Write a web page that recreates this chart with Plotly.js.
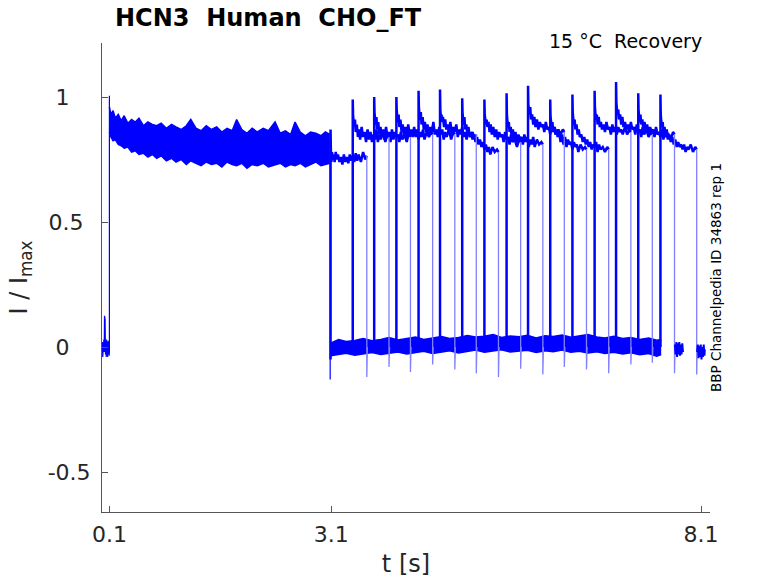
<!DOCTYPE html>
<html>
<head>
<meta charset="UTF-8">
<title>HCN3 Human CHO_FT</title>
<script src="https://cdn.plot.ly/plotly-3.0.1.min.js"></script>
<style>
  body { margin: 0; background: #fff; }
  #chart { width: 778px; height: 583px; }
</style>
</head>
<body>
<div id="chart"></div>
<script>
    const blue = '#0000ff';
    const lightBlue = '#8080ff';

    // holding level before the first pulse (t < 0.1 s)
    var preT = [0, 0.005, 0.01, 0.015, 0.02, 0.025, 0.03, 0.034, 0.038, 0.042, 0.047, 0.052, 0.057, 0.062, 0.067, 0.072, 0.077, 0.082, 0.087, 0.092, 0.097, 0.1, 0.1];
    var preY = [-0.01, 0.02, -0.04, 0.015, -0.035, 0.03, -0.02, 0.125, 0.01, 0.11, -0.03, 0.02, -0.04, 0.03, -0.035, 0.02, -0.04, 0.025, -0.03, 0.02, -0.035, -0.02, 1.005];

    // first pulse 0.1 .. 3.1 s, envelope of all sweeps
    var p1T  = [0.1, 0.12, 0.15, 0.18, 0.22, 0.26, 0.3, 0.35, 0.4, 0.45, 0.5, 0.56, 0.62, 0.68, 0.74, 0.8, 0.87, 0.94, 1.0, 1.07,
                1.14, 1.2, 1.27, 1.34, 1.41, 1.48, 1.55, 1.62, 1.69, 1.76, 1.82, 1.89, 1.96, 2.03, 2.1, 2.18, 2.25, 2.34, 2.41, 2.48,
                2.55, 2.61, 2.68, 2.75, 2.82, 2.89, 2.96, 3.02, 3.08];
    var p1Hi = [0.96, 0.93, 0.945, 0.915, 0.93, 0.905, 0.925, 0.895, 0.91, 0.9, 0.915, 0.885, 0.9, 0.89, 0.885, 0.895, 0.875, 0.89, 0.88, 0.87,
                0.885, 0.91, 0.875, 0.865, 0.885, 0.87, 0.88, 0.86, 0.875, 0.865, 0.91, 0.87, 0.855, 0.875, 0.86, 0.875, 0.865, 0.90, 0.855, 0.865,
                0.85, 0.90, 0.86, 0.845, 0.86, 0.855, 0.845, 0.86, 0.85];
    var p1Lo = [0.86, 0.84, 0.825, 0.83, 0.81, 0.805, 0.795, 0.80, 0.78, 0.785, 0.77, 0.775, 0.76, 0.77, 0.755, 0.765, 0.745, 0.755, 0.74, 0.75,
                0.73, 0.745, 0.735, 0.725, 0.74, 0.73, 0.735, 0.72, 0.74, 0.73, 0.725, 0.735, 0.715, 0.73, 0.725, 0.735, 0.72, 0.73, 0.735, 0.72,
                0.73, 0.725, 0.735, 0.72, 0.73, 0.74, 0.725, 0.73, 0.735];

    // end of first pulse
    var dropT = 3.085;
    var dropTop = 0.84;
    var dropMin = -0.13;

    // recovery gap, envelope of all sweeps
    var baseT  = [3.09, 3.2, 3.3, 3.42, 3.53, 3.65, 3.77, 3.88, 4.0, 4.12, 4.24, 4.35, 4.47, 4.59, 4.7, 4.82, 4.94, 5.05, 5.17, 5.29,
                  5.4, 5.52, 5.64, 5.75, 5.87, 5.99, 6.1, 6.22, 6.34, 6.45, 6.57, 6.69, 6.8, 6.92, 7.04, 7.15, 7.27, 7.39, 7.5, 7.56];
    var baseHi = [0.015, 0.03, 0.022, 0.026, 0.034, 0.025, 0.03, 0.038, 0.028, 0.033, 0.04, 0.03, 0.036, 0.042, 0.034, 0.038, 0.046, 0.04, 0.043, 0.05,
                  0.038, 0.044, 0.041, 0.047, 0.036, 0.045, 0.042, 0.048, 0.039, 0.044, 0.05, 0.04, 0.036, 0.043, 0.034, 0.038, 0.03, 0.036, 0.027, 0.03];
    var baseLo = [-0.035, -0.03, -0.025, -0.033, -0.027, -0.022, -0.03, -0.024, -0.02, -0.028, -0.021, -0.017, -0.026, -0.02, -0.015, -0.024, -0.018, -0.012, -0.021, -0.016,
                  -0.011, -0.02, -0.017, -0.013, -0.022, -0.015, -0.019, -0.012, -0.021, -0.017, -0.024, -0.019, -0.026, -0.021, -0.028, -0.023, -0.031, -0.026, -0.037, -0.03];

    // second pulse: start time of each sweep, sample offsets, and current
    var riseT    = [3.09, 3.39, 3.68, 3.98, 4.28, 4.57, 4.87, 5.17, 5.47, 5.76, 6.06, 6.36, 6.66, 6.95, 7.25, 7.55];
    var riseBase = [-0.05, 0, 0, 0, 0, 0, 0, 0, 0, 0, 0, 0, 0, 0, 0, 0];
    var dt = [0, 0.004, 0.012, 0.02, 0.03, 0.04, 0.055, 0.07, 0.085, 0.1, 0.12, 0.14, 0.16, 0.18, 0.2, 0.22, 0.24, 0.26, 0.28, 0.3, 0.32, 0.34, 0.36, 0.38, 0.41, 0.44, 0.47, 0.49];
    var sweepY = [
        [0.87, 0.79, 0.74, 0.78, 0.75, 0.77, 0.74, 0.78, 0.75, 0.77, 0.74, 0.76, 0.73, 0.77, 0.74, 0.76, 0.735, 0.77, 0.745, 0.765, 0.74, 0.775, 0.745, 0.77, 0.74, 0.78, 0.75, 0.765],
        [0.99, 0.93, 0.90, 0.88, 0.91, 0.86, 0.89, 0.84, 0.87, 0.83, 0.88, 0.84, 0.86, 0.82, 0.87, 0.83, 0.86, 0.82, 0.85, 0.83, 0.87, 0.82, 0.85, 0.83, 0.86, 0.82, 0.85, 0.84],
        [1.0, 0.94, 0.91, 0.89, 0.92, 0.87, 0.90, 0.85, 0.88, 0.84, 0.87, 0.83, 0.88, 0.84, 0.86, 0.82, 0.87, 0.83, 0.86, 0.84, 0.85, 0.82, 0.86, 0.83, 0.85, 0.82, 0.86, 0.84],
        [1.0, 0.95, 0.92, 0.90, 0.93, 0.88, 0.91, 0.86, 0.89, 0.85, 0.88, 0.84, 0.89, 0.85, 0.87, 0.84, 0.88, 0.84, 0.87, 0.83, 0.86, 0.84, 0.87, 0.83, 0.86, 0.84, 0.86, 0.85],
        [1.025, 0.96, 0.93, 0.91, 0.94, 0.89, 0.92, 0.87, 0.90, 0.86, 0.89, 0.85, 0.88, 0.86, 0.90, 0.85, 0.87, 0.84, 0.88, 0.85, 0.87, 0.83, 0.86, 0.84, 0.87, 0.83, 0.86, 0.85],
        [1.03, 0.95, 0.92, 0.93, 0.90, 0.92, 0.88, 0.91, 0.87, 0.89, 0.86, 0.90, 0.85, 0.88, 0.86, 0.89, 0.84, 0.87, 0.85, 0.88, 0.84, 0.86, 0.83, 0.87, 0.84, 0.86, 0.83, 0.85],
        [0.995, 0.94, 0.91, 0.89, 0.92, 0.87, 0.89, 0.85, 0.88, 0.84, 0.86, 0.83, 0.85, 0.82, 0.84, 0.81, 0.83, 0.80, 0.82, 0.79, 0.81, 0.78, 0.80, 0.77, 0.80, 0.78, 0.79, 0.78],
        [0.99, 0.93, 0.91, 0.89, 0.91, 0.88, 0.90, 0.86, 0.89, 0.85, 0.88, 0.84, 0.87, 0.83, 0.86, 0.84, 0.85, 0.82, 0.86, 0.83, 0.84, 0.81, 0.85, 0.82, 0.83, 0.80, 0.83, 0.82],
        [1.015, 0.93, 0.90, 0.88, 0.90, 0.86, 0.88, 0.84, 0.87, 0.83, 0.86, 0.82, 0.85, 0.83, 0.84, 0.81, 0.85, 0.82, 0.84, 0.80, 0.83, 0.81, 0.84, 0.80, 0.83, 0.81, 0.82, 0.81],
        [1.045, 0.97, 0.95, 0.93, 0.96, 0.91, 0.93, 0.89, 0.92, 0.88, 0.91, 0.87, 0.90, 0.88, 0.89, 0.86, 0.90, 0.87, 0.88, 0.85, 0.89, 0.86, 0.88, 0.85, 0.87, 0.85, 0.87, 0.86],
        [0.99, 0.92, 0.90, 0.88, 0.90, 0.86, 0.88, 0.85, 0.87, 0.84, 0.86, 0.82, 0.85, 0.81, 0.84, 0.80, 0.83, 0.81, 0.82, 0.79, 0.82, 0.80, 0.81, 0.78, 0.81, 0.79, 0.80, 0.79],
        [1.01, 0.94, 0.91, 0.89, 0.91, 0.87, 0.89, 0.85, 0.87, 0.84, 0.85, 0.82, 0.84, 0.81, 0.83, 0.80, 0.82, 0.79, 0.81, 0.80, 0.82, 0.78, 0.81, 0.79, 0.80, 0.78, 0.80, 0.79],
        [1.025, 0.96, 0.93, 0.91, 0.93, 0.89, 0.92, 0.88, 0.90, 0.87, 0.89, 0.86, 0.90, 0.87, 0.88, 0.85, 0.89, 0.86, 0.88, 0.85, 0.88, 0.86, 0.87, 0.85, 0.88, 0.85, 0.87, 0.86],
        [1.06, 0.98, 0.95, 0.93, 0.95, 0.91, 0.93, 0.89, 0.92, 0.88, 0.90, 0.87, 0.89, 0.86, 0.90, 0.87, 0.88, 0.85, 0.89, 0.86, 0.87, 0.84, 0.88, 0.85, 0.87, 0.84, 0.86, 0.85],
        [1.015, 0.95, 0.92, 0.90, 0.93, 0.89, 0.91, 0.87, 0.90, 0.86, 0.89, 0.85, 0.88, 0.86, 0.87, 0.84, 0.88, 0.85, 0.86, 0.84, 0.87, 0.83, 0.86, 0.84, 0.85, 0.83, 0.86, 0.85],
        [1.01, 0.93, 0.90, 0.88, 0.90, 0.86, 0.88, 0.84, 0.87, 0.83, 0.85, 0.82, 0.84, 0.81, 0.83, 0.80, 0.82, 0.80, 0.81, 0.79, 0.81, 0.78, 0.80, 0.79, 0.81, 0.78, 0.80, 0.79]
    ];
    // undershoot when the second pulse ends
    var dipMin = [-0.12, -0.08, -0.10, -0.07, -0.09, -0.105, -0.12, -0.087, -0.11, -0.08, -0.09, -0.105, -0.07, -0.063, -0.105, -0.11];

    // short tails after the last two sweeps
    var tailAT = [7.745, 7.755, 7.765, 7.775, 7.785, 7.795, 7.805, 7.815, 7.825, 7.835, 7.845, 7.855];
    var tailAY = [0.01, -0.03, 0.02, -0.04, 0.015, -0.03, 0.02, -0.035, 0.01, -0.03, 0.015, -0.02];
    var tailBT = [8.045, 8.055, 8.065, 8.075, 8.085, 8.095, 8.105, 8.115, 8.125, 8.135, 8.145, 8.15];
    var tailBY = [-0.02, 0.01, -0.045, 0.005, -0.04, 0.01, -0.05, 0.0, -0.04, 0.01, -0.035, -0.01];

    var traces = [];
    function line(x, y, color, width, extra) {
        var t = { x: x, y: y, type: 'scatter', mode: 'lines', line: { color: color, width: width }, hoverinfo: 'skip' };
        return Object.assign(t, extra || {});
    }

    // bands drawn as filled envelopes
    traces.push(line(baseT, baseLo, blue, 1.5));
    traces.push(line(baseT, baseHi, blue, 1.5, { fill: 'tonexty', fillcolor: blue }));
    traces.push(line(p1T, p1Lo, blue, 1.5));
    traces.push(line(p1T, p1Hi, blue, 1.5, { fill: 'tonexty', fillcolor: blue }));
    traces.push(line(preT, preY, blue, 1.2));
    traces.push(line([dropT, dropT], [dropTop, dropMin], blue, 1.2));

    // second pulses
    var fallX = [], fallY = [];
    riseT.forEach((r, i) => {
        var xs = [r].concat(dt.map(d => r + d));
        var ys = [riseBase[i]].concat(sweepY[i]);
        traces.push(line(xs, ys, blue, 2.5, { line: { color: blue, width: 2.5, join: 'miter' } }));
        var end = r + dt[dt.length - 1];
        fallX.push(end, end, end + 0.008, null);
        fallY.push(sweepY[i][sweepY[i].length - 1], dipMin[i], 0, null);
    });
    traces.push(line(fallX, fallY, lightBlue, 1.3, { connectgaps: false }));
    traces.push(line(tailAT, tailAY, blue, 2));
    traces.push(line(tailBT, tailBY, blue, 2));

    var nb = '\u00a0';
    var layout = {
        width: 778,
        height: 583,
        margin: { l: 102, r: 68, t: 43, b: 71 },
        paper_bgcolor: '#fff',
        plot_bgcolor: '#fff',
        showlegend: false,
        hovermode: false,
        font: { family: 'DejaVu Sans', color: '#262626' },
        title: {
            text: '<b>HCN3' + nb + nb + 'Human' + nb + nb + 'CHO_FT</b>',
            font: { family: 'DejaVu Sans', size: 24, color: '#000' },
            x: 115 / 778, xanchor: 'left', xref: 'container',
            y: 1 - 18 / 583, yanchor: 'middle', yref: 'container'
        },
        xaxis: {
            range: [0, 8.22],
            tickvals: [0.1, 3.1, 8.1],
            ticktext: ['0.1', '3.1', '8.1'],
            ticks: 'inside', ticklen: 6, tickcolor: '#555',
            showline: true, linecolor: '#555', linewidth: 1,
            showgrid: false, zeroline: false,
            tickfont: { size: 22, color: '#262626' },
            ticklabelstandoff: 3,
            automargin: false,
            title: { text: 't [s]', font: { size: 24, color: '#262626' }, standoff: 8 }
        },
        yaxis: {
            range: [-0.66, 1.216],
            tickvals: [-0.5, 0, 0.5, 1],
            ticktext: ['-0.5', '0' + nb + nb + nb, '0.5' + nb, '1' + nb + nb + nb],
            ticks: 'inside', ticklen: 6, tickcolor: '#555',
            showline: true, linecolor: '#555', linewidth: 1,
            showgrid: false, zeroline: false,
            tickfont: { size: 22, color: '#262626' },
            ticklabelstandoff: 6,
            automargin: false,
            title: { text: 'I / I<sub>max</sub>', font: { size: 24, color: '#262626' }, standoff: 13 }
        },
        annotations: [
            {
                text: '15 °C' + nb + nb + 'Recovery',
                xref: 'paper', yref: 'paper',
                x: (704 - 102) / 608, xanchor: 'right',
                y: (512 - 41) / 469, yanchor: 'middle',
                showarrow: false,
                font: { family: 'DejaVu Sans', size: 19, color: '#000' }
            },
            {
                text: 'BBP Channelpedia ID 34863 rep 1',
                xref: 'paper', yref: 'paper',
                x: (716 - 102) / 608, xanchor: 'center',
                y: (512 - 278) / 469, yanchor: 'middle',
                textangle: -90,
                showarrow: false,
                font: { family: 'DejaVu Sans', size: 13.5, color: '#000' }
            }
        ]
    };

    Plotly.newPlot('chart', traces, layout, { displayModeBar: false, staticPlot: true });
</script>
</body>
</html>
